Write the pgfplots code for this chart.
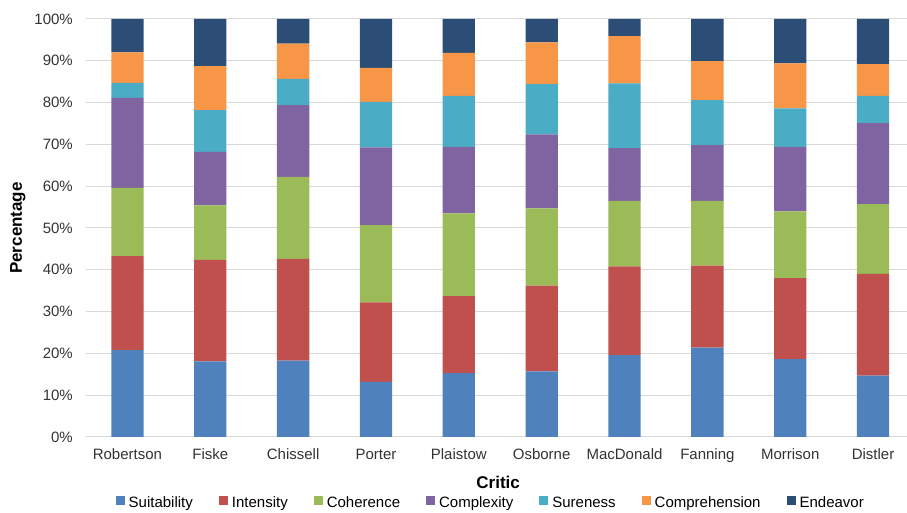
\documentclass[border=0pt]{standalone}
\usepackage{fontspec}
\setmainfont{Liberation Sans}
\usepackage{pgfplots}
\usepackage{pgfplotstable}
\pgfplotsset{compat=1.18}

\definecolor{cSuit}{HTML}{4F81BD}
\definecolor{cInt}{HTML}{C0504D}
\definecolor{cCoh}{HTML}{9BBB59}
\definecolor{cCom}{HTML}{8064A2}
\definecolor{cSur}{HTML}{4BACC6}
\definecolor{cCmp}{HTML}{F79646}
\definecolor{cEnd}{HTML}{2C4D75}
\definecolor{gridgray}{HTML}{D9D9D9}

% percentages per critic (x = 0..9)
\pgfplotstableread{
x  suit  inte  cohe  comx  sure  comp  ende
0  20.8  22.5  16.3  21.5   3.6   7.3   8.0
1  18.1  24.3  13.0  12.8  10.0  10.5  11.3
2  18.3  24.3  19.6  17.2   6.3   8.4   5.9
3  13.2  19.0  18.5  18.6  10.9   8.1  11.7
4  15.3  18.4  19.8  15.9  12.2  10.3   8.1
5  15.7  20.5  18.5  17.7  12.0  10.0   5.6
6  19.6  21.2  15.7  12.6  15.5  11.3   4.1
7  21.4  19.6  15.5  13.3  10.8   9.3  10.1
8  18.6  19.4  16.0  15.4   9.2  10.8  10.6
9  14.7  24.3  16.7  19.4   6.5   7.6  10.8
}\critics

\begin{document}
\fontsize{15}{18}\selectfont
\begin{tikzpicture}
\path[use as bounding box] (-86pt,-76pt) rectangle (821pt,437pt);
\begin{axis}[
    at={(0,0)}, anchor=south west,
    scale only axis,
    width=821pt, height=418pt,
    ybar stacked,
    bar width=0.39,
    xmin=-0.5, xmax=9.41,
    ymin=0, ymax=100,
    xtick=data,
    xticklabels={Robertson,Fiske,Chissell,Porter,Plaistow,Osborne,MacDonald,Fanning,Morrison,Distler},
    ytick={0,10,...,100},
    yticklabel={\pgfmathprintnumber{\tick}\%},
    /pgf/number format/assume math mode=true,
    major tick length=0pt,
    axis line style={draw=none},
    ymajorgrids,
    grid style={gridgray, line width=1pt},
    tick label style={font=\fontsize{15}{18}\selectfont, text=black!80},
    yticklabel style={xshift=-8pt},
    xticklabel style={yshift=-6pt, text height=0.75em, text depth=0.22em},
    xlabel={Critic},
    ylabel={Percentage},
    every axis x label/.style={at={(axis description cs:0.502,-0.108)}, anchor=center, font=\fontsize{17}{20}\selectfont\bfseries},
    every axis y label/.style={at={(axis description cs:-0.083,0.5)}, rotate=90, anchor=center, font=\fontsize{17}{20}\selectfont\bfseries},
    legend columns=-1,
    legend style={draw=none, fill=none, at={(axis description cs:0.493,-0.16)}, anchor=center,
        font=\fontsize{15}{18}\selectfont,
        nodes={text height=0.75em, text depth=0.22em},
        /tikz/every even column/.append style={column sep=24pt},
        /tikz/every odd column/.append style={column sep=2pt}},
    legend image code/.code={\fill[#1] (0pt,-1pt) rectangle (9pt,8pt);},
    every axis plot/.append style={draw=none},
]
\addplot[fill=cSuit] table[x=x, y=suit] {\critics};
\addplot[fill=cInt]  table[x=x, y=inte] {\critics};
\addplot[fill=cCoh]  table[x=x, y=cohe] {\critics};
\addplot[fill=cCom]  table[x=x, y=comx] {\critics};
\addplot[fill=cSur]  table[x=x, y=sure] {\critics};
\addplot[fill=cCmp]  table[x=x, y=comp] {\critics};
\addplot[fill=cEnd]  table[x=x, y=ende] {\critics};
\legend{Suitability,Intensity,Coherence,Complexity,Sureness,Comprehension,Endeavor}
\end{axis}
\end{tikzpicture}
\end{document}
